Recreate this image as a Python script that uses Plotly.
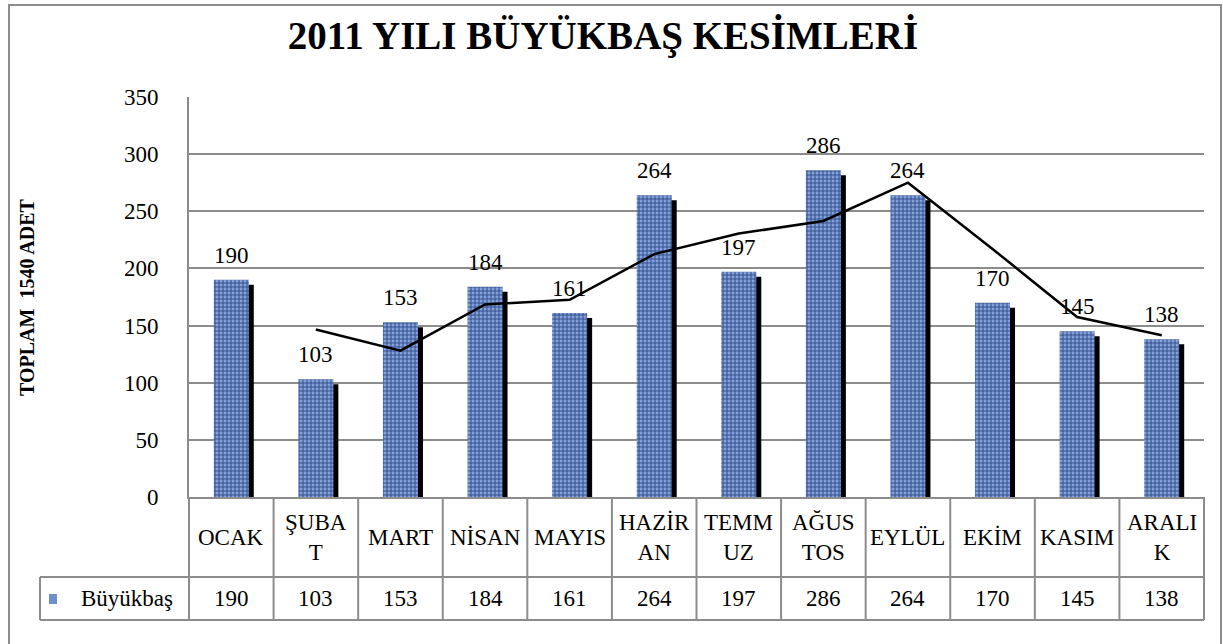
import plotly.graph_objects as go

# ---------------- data ----------------
months = ["OCAK", "ŞUBAT", "MART", "NİSAN", "MAYIS", "HAZİRAN",
          "TEMMUZ", "AĞUSTOS", "EYLÜL", "EKİM", "KASIM", "ARALIK"]
table_labels = ["OCAK", "ŞUBA<br>T", "MART", "NİSAN", "MAYIS", "HAZİR<br>AN",
                "TEMM<br>UZ", "AĞUS<br>TOS", "EYLÜL", "EKİM", "KASIM", "ARALI<br>K"]
values = [190, 103, 153, 184, 161, 264, 197, 286, 264, 170, 145, 138]
trend = [None, 146.5, 128, 168.5, 172.5, 212.5, 230.5, 241.5, 275, 217, 157.5, 141.5]
y_ticks = [0, 50, 100, 150, 200, 250, 300, 350]
series_name = "Büyükbaş"
title_text = "2011 YILI BÜYÜKBAŞ KESİMLERİ"
y_title = "TOPLAM  1540 ADET"

# ---------------- geometry ----------------
W, H = 1223, 644
L, R, T, B = 189, 19, 97, 147
PW, PH = W - L - R, H - T - B
YMAX = 350

def px_x(p):  # pixel -> paper x
    return (p - L) / PW

def px_y(p):  # pixel -> paper y
    return (H - B - p) / PH

x = list(range(len(months)))
bar_w = 35 / (PW / 12)
shadow_dx = 5 / (PW / 12)
shadow_dy = 5 * YMAX / PH

FONT = "Liberation Serif"
GRID = "#8c8c8c"
BAR_BG = "#84a2da"
BAR_FG = "#34518f"

fig = go.Figure()

# shadow
fig.add_trace(go.Bar(
    x=x, y=[v - shadow_dy for v in values], width=bar_w, offset=-bar_w / 2 + shadow_dx,
    marker=dict(color="black", line=dict(width=0)), showlegend=False, hoverinfo="skip"))
# bars
fig.add_trace(go.Bar(
    x=x, y=values, width=bar_w, offset=-bar_w / 2, name=series_name,
    marker=dict(color=BAR_BG, line=dict(width=0),
                pattern=dict(shape="+", fgcolor=BAR_FG, bgcolor=BAR_BG,
                             size=4, solidity=0.45, fillmode="replace")),
    showlegend=False))
# trend line
fig.add_trace(go.Scatter(
    x=x, y=trend, mode="lines", line=dict(color="black", width=2.5),
    showlegend=False, hoverinfo="skip"))

annotations = []
# value labels
for xi, v in zip(x, values):
    annotations.append(dict(x=xi, y=v, xref="x", yref="y", text=str(v), showarrow=False,
                            xanchor="center", yanchor="bottom", yshift=10,
                            font=dict(family=FONT, size=23, color="black")))

# data table text
cat_row_top, cat_row_bot, val_row_bot = 497, 577, 620
leg_left = 40
for xi, lab, v in zip(x, table_labels, values):
    annotations.append(dict(x=xi, y=px_y((cat_row_top + cat_row_bot) / 2), xref="x", yref="paper",
                            text=lab, showarrow=False, xanchor="center", yanchor="middle",
                            font=dict(family=FONT, size=23, color="black")))
    annotations.append(dict(x=xi, y=px_y((cat_row_bot + val_row_bot) / 2), xref="x", yref="paper",
                            text=str(v), showarrow=False, xanchor="center", yanchor="middle",
                            font=dict(family=FONT, size=23, color="black")))
annotations.append(dict(x=px_x(127), y=px_y((cat_row_bot + val_row_bot) / 2), xref="paper",
                        yref="paper", text=series_name, showarrow=False,
                        xanchor="center", yanchor="middle",
                        font=dict(family=FONT, size=23, color="black")))
# y title
annotations.append(dict(x=px_x(27), y=0.5, xref="paper", yref="paper", text=y_title,
                        textangle=-90, showarrow=False, xanchor="center", yanchor="middle",
                        font=dict(family=FONT, size=20, color="black", weight="bold")))

shapes = []
line_style = dict(color=GRID, width=2)
# table grid
for k in range(13):
    shapes.append(dict(type="line", xref="paper", yref="paper", x0=k / 12, x1=k / 12,
                       y0=px_y(cat_row_top), y1=px_y(val_row_bot), line=line_style))
shapes.append(dict(type="line", xref="paper", yref="paper", x0=px_x(leg_left), x1=px_x(leg_left),
                   y0=px_y(cat_row_bot), y1=px_y(val_row_bot), line=line_style))
for yy in (cat_row_bot, val_row_bot):
    shapes.append(dict(type="line", xref="paper", yref="paper", x0=px_x(leg_left), x1=1,
                       y0=px_y(yy), y1=px_y(yy), line=line_style))
# legend key
shapes.append(dict(type="rect", xref="paper", yref="paper", x0=px_x(49), x1=px_x(57),
                   y0=px_y(604), y1=px_y(594), line=dict(width=0), fillcolor="#6f8fcc"))
# outer border
shapes.append(dict(type="rect", xref="paper", yref="paper", x0=px_x(9), x1=px_x(1221),
                   y0=px_y(5), y1=px_y(660), line=dict(color=GRID, width=2)))

fig.update_layout(
    width=W, height=H,
    margin=dict(l=L, r=R, t=T, b=B),
    paper_bgcolor="white", plot_bgcolor="white",
    barmode="overlay",
    title=dict(text=title_text, x=603 / W, xanchor="center", y=1 - 35 / H, yanchor="middle",
               xref="container", yref="container",
               font=dict(family=FONT, size=39, color="black", weight="bold")),
    xaxis=dict(range=[-0.5, 11.5], showticklabels=False, showgrid=False, zeroline=False,
               showline=True, linecolor=GRID, linewidth=2, fixedrange=True),
    yaxis=dict(range=[0, YMAX], tickvals=y_ticks, showgrid=True, gridcolor=GRID, gridwidth=2,
               zeroline=False, showline=True, linecolor=GRID, linewidth=2,
               ticklabelstandoff=24,
               tickfont=dict(family=FONT, size=23, color="black")),
    annotations=annotations, shapes=shapes,
    font=dict(family=FONT),
)

fig.write_html("out.html", config={"displayModeBar": False},
               post_script="document.body.style.margin='0';document.body.style.overflow='hidden';")
